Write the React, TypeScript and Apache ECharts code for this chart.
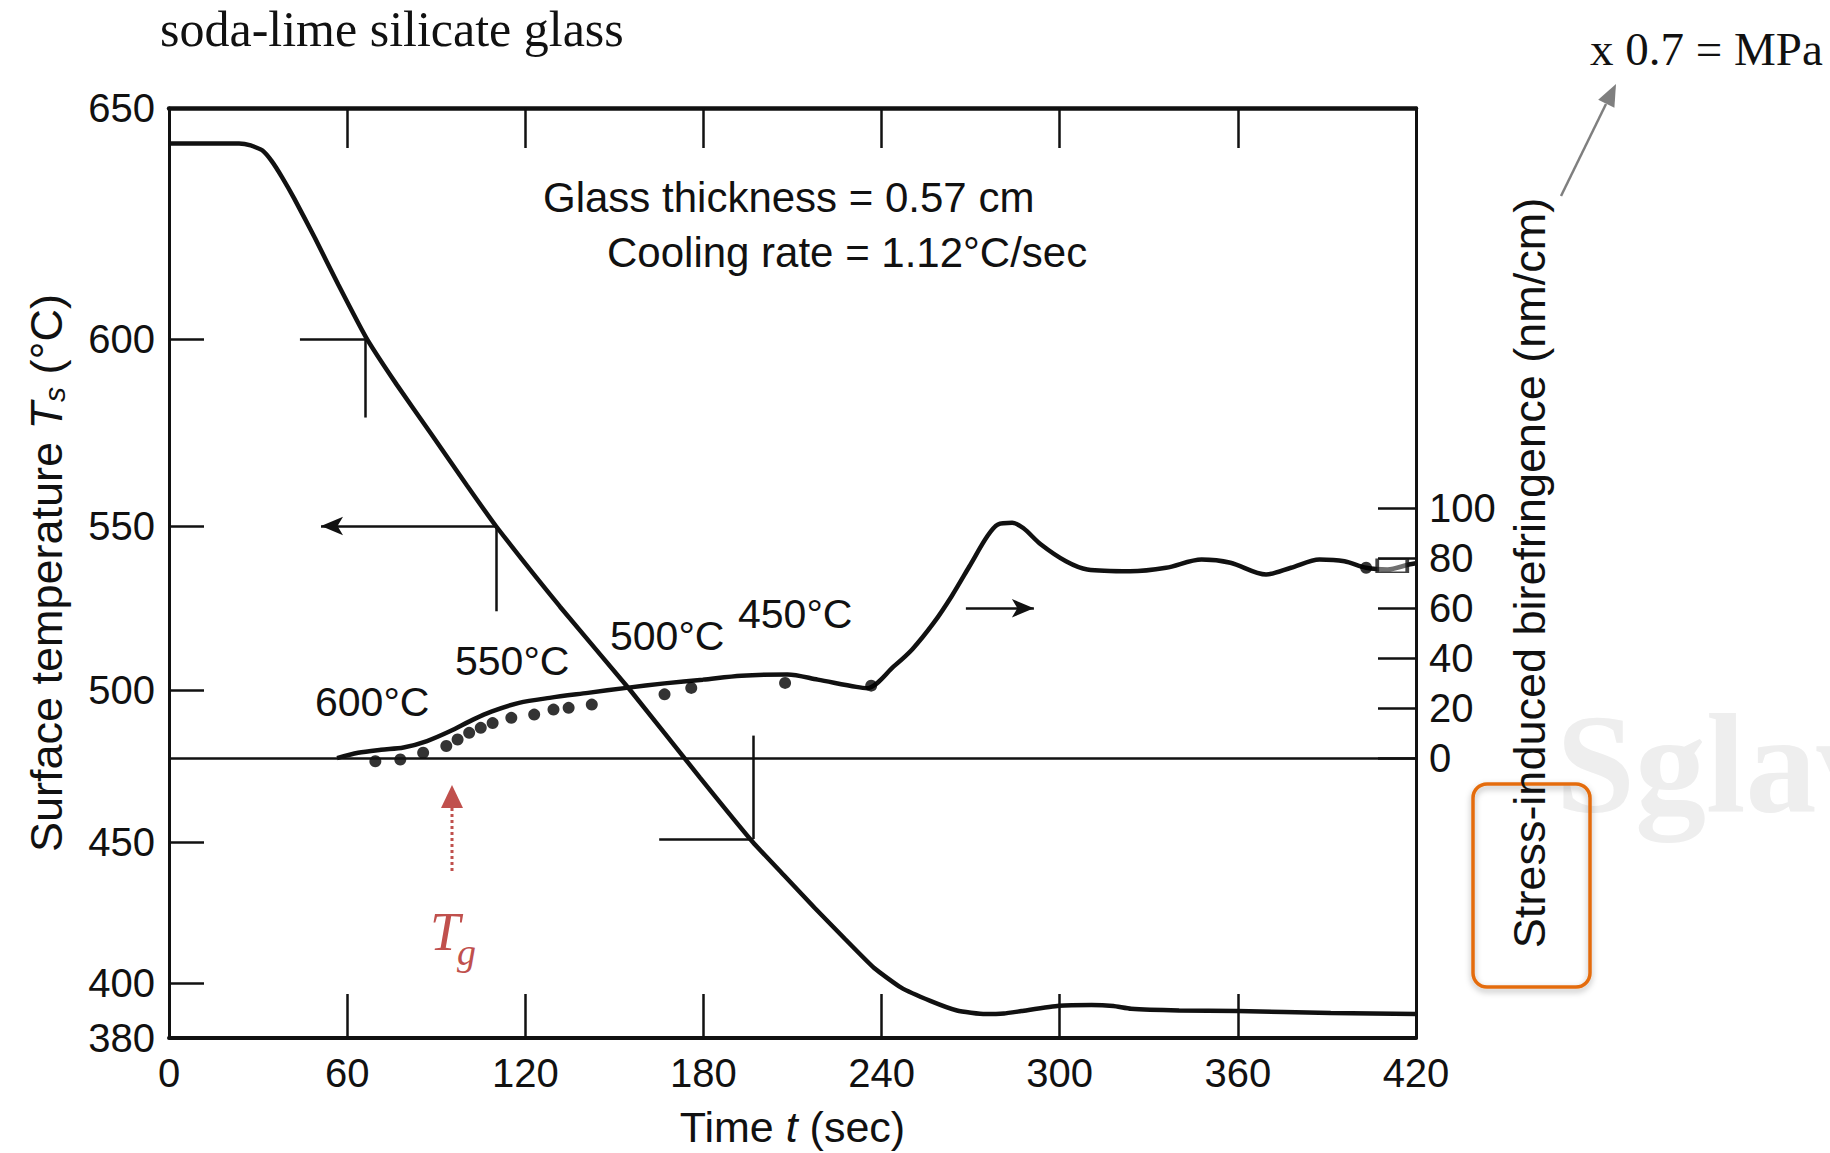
import React, { useEffect, useRef } from "react";
import * as echarts from "echarts";

// ---------- axis definitions ----------
const timeMin = 0;
const timeMax = 420;
const timeStep = 60;

// The temperature axis of the original figure is non-linear: these stops map a
// temperature to its position along the axis (axis units, bottom = 0).
const tempScaleValues = [380, 400, 450, 500, 550, 600, 650];
const tempScalePositions = [0, 55, 196, 348, 512, 699, 930];
const tempTickValues = [400, 450, 500, 550, 600];

const birefTickValues = [0, 20, 40, 60, 80, 100];
const birefMin = -112.1;
const birefMax = 260.3;

// ---------- data ----------
const surfaceTime = [0, 23.6, 27.5, 31.5, 34.6, 38.1, 42.1, 49.2, 57.0, 66.5, 76.7, 88.5, 100.3, 110.1, 131.7, 155.3, 178.9, 196.6, 207.2, 217.5, 227.7, 237.5, 246.6, 256.4, 265.4, 274.9, 281.2, 287.1, 299.7, 310.7, 318.1, 324.0, 340.2, 359.8, 391.3, 420];
const surfaceTemp = [642.3, 642.3, 641.9, 640.8, 638.5, 635.0, 630.5, 621.8, 611.8, 600.2, 587.8, 574.4, 560.9, 550.0, 525.4, 500.0, 471.1, 450.0, 438.1, 426.6, 415.6, 405.3, 398.3, 393.5, 390.0, 388.7, 388.9, 389.8, 391.7, 392.0, 391.6, 390.6, 390.0, 389.8, 389.1, 388.7];

const birefTime = [56.6, 63.7, 71.4, 79.0, 86.9, 94.6, 102.4, 108.8, 117.9, 128.2, 141.1, 154.1, 166.9, 179.8, 192.8, 208.3, 218.5, 231.5, 235.2, 244.2, 250.3, 257.6, 263.6, 269.6, 275.6, 279.2, 284.0, 287.7, 293.7, 302.1, 309.3, 323.7, 335.8, 347.8, 357.5, 369.5, 377.9, 387.5, 395.9, 403.2, 410.4, 417.6, 420];
const birefValue = [0, 2.1, 3.3, 4.2, 6.8, 10.7, 15.4, 18.7, 22.1, 24.1, 26.1, 28.1, 29.9, 31.4, 33.0, 33.5, 31.4, 28.5, 28.0, 36.8, 43.5, 54.2, 64.8, 76.8, 88.8, 93.5, 94.2, 92.1, 85.5, 78.8, 75.5, 74.8, 76.2, 79.5, 78.2, 73.5, 76.2, 79.5, 78.8, 76.2, 75.5, 77.5, 78];

const pointTime = [69.5, 77.9, 85.6, 93.4, 97.2, 101.1, 105.0, 109.0, 115.3, 123.0, 129.5, 134.6, 142.4, 166.9, 175.9, 207.5, 236.5, 403.2];
const pointValue = [-1.3, -0.6, 2.1, 4.8, 7.4, 10.1, 12.1, 14.0, 16.1, 17.4, 19.4, 20.1, 21.4, 25.5, 28.1, 30.1, 29.0, 76.2];

const endMarker = [412, 77];

// guide lines of the temperature curve: [t1, T1, t2, T2]
const tempGuides = [
  [44.1, 600, 66.0, 600],
  [66.0, 600, 66.0, 579],
  [110.2, 550, 110.2, 524],
  [165.1, 451, 196.8, 451],
  [196.8, 451, 196.8, 485],
];
const tempArrow = [110.2, 550, 51.2, 550];
const birefArrow = [268.4, 60, 291.3, 60];

// ---------- helpers ----------
function toPos(T: number): number {
  const v = tempScaleValues;
  const p = tempScalePositions;
  let i = 0;
  while (i < v.length - 2 && T > v[i + 1]) i++;
  return p[i] + ((T - v[i]) * (p[i + 1] - p[i])) / (v[i + 1] - v[i]);
}
function tempLabel(pos: number): string {
  for (let i = 0; i < tempScaleValues.length; i++) {
    if (Math.abs(toPos(tempScaleValues[i]) - pos) < 0.5) return String(tempScaleValues[i]);
  }
  return "";
}

const ink = "#111111";
const sans = '"Liberation Sans", Arial, Helvetica, sans-serif';
const serif = '"Liberation Serif", "Times New Roman", serif';
const red = "#C0504D";

export default function App() {
  const ref = useRef<HTMLDivElement>(null);

  useEffect(() => {
    if (!ref.current) return;
    const chart = echarts.init(ref.current, undefined, { renderer: "svg" });

    const guideLines: any[] = tempGuides.map((g) => [
      { coord: [g[0], toPos(g[1])], symbol: "none" },
      { coord: [g[2], toPos(g[3])], symbol: "none" },
    ]);
    guideLines.push([
      { coord: [tempArrow[0], toPos(tempArrow[1])], symbol: "none" },
      { coord: [tempArrow[2], toPos(tempArrow[3])], symbol: "arrow", symbolSize: [14, 22] },
    ]);

    const option: any = {
      animation: false,
      backgroundColor: "#ffffff",
      grid: { left: 169, right: 414, top: 108, bottom: 115 },
      xAxis: [
        {
          type: "value",
          position: "bottom",
          min: timeMin,
          max: timeMax,
          interval: timeStep,
          name: "Time {it|t} (sec)",
          nameLocation: "middle",
          nameGap: 67,
          nameTextStyle: {
            fontFamily: sans,
            fontSize: 43,
            color: ink,
            rich: { it: { fontFamily: sans, fontSize: 43, fontStyle: "italic", color: ink } },
          },
          axisLine: { show: true, onZero: false, lineStyle: { color: ink, width: 4 } },
          axisTick: { show: true, inside: true, length: 44, lineStyle: { color: ink, width: 2.5 } },
          axisLabel: { fontFamily: sans, fontSize: 40, color: ink, margin: 15 },
          splitLine: { show: false },
        },
        {
          type: "value",
          position: "top",
          min: timeMin,
          max: timeMax,
          interval: timeStep,
          axisLine: { show: true, onZero: false, lineStyle: { color: ink, width: 4.5 } },
          axisTick: { show: true, inside: true, length: 40, lineStyle: { color: ink, width: 2.5 } },
          axisLabel: { show: false },
          splitLine: { show: false },
        },
      ],
      yAxis: [
        {
          type: "value",
          position: "left",
          min: 0,
          max: tempScalePositions[tempScalePositions.length - 1],
          name: "Surface temperature {it|T}{sub|s} (°C)",
          nameLocation: "middle",
          nameGap: 100,
          nameTextStyle: {
            fontFamily: sans,
            fontSize: 45,
            color: ink,
            rich: {
              it: { fontFamily: sans, fontSize: 45, fontStyle: "italic", color: ink },
              sub: { fontFamily: sans, fontSize: 30, fontStyle: "italic", color: ink, lineHeight: 20, verticalAlign: "bottom" },
            },
          },
          axisLine: { show: true, onZero: false, lineStyle: { color: ink, width: 3 } },
          axisTick: {
            show: true,
            inside: true,
            length: 35,
            customValues: tempTickValues.map(toPos),
            lineStyle: { color: ink, width: 2.5 },
          },
          axisLabel: {
            customValues: tempScaleValues.map(toPos),
            formatter: (v: number) => tempLabel(v),
            fontFamily: sans,
            fontSize: 40,
            color: ink,
            margin: 14,
          },
          splitLine: { show: false },
        },
        {
          type: "value",
          position: "right",
          min: birefMin,
          max: birefMax,
          name: "Stress-induced birefringence (nm/cm)",
          nameLocation: "middle",
          nameGap: 87,
          nameTextStyle: { fontFamily: sans, fontSize: 45, color: ink },
          axisLine: { show: true, onZero: false, lineStyle: { color: ink, width: 3 } },
          axisTick: {
            show: true,
            inside: true,
            length: 38,
            customValues: birefTickValues,
            lineStyle: { color: ink, width: 2.5 },
          },
          axisLabel: {
            customValues: birefTickValues,
            fontFamily: sans,
            fontSize: 40,
            color: ink,
            margin: 13,
          },
          splitLine: { show: false },
        },
      ],
      series: [
        {
          name: "Surface temperature",
          type: "line",
          xAxisIndex: 0,
          yAxisIndex: 0,
          showSymbol: false,
          smooth: 0.15,
          lineStyle: { color: ink, width: 4.5 },
          data: surfaceTime.map((t, i) => [t, toPos(surfaceTemp[i])]),
          markLine: {
            silent: true,
            symbol: ["none", "none"],
            label: { show: false },
            lineStyle: { color: ink, width: 2.5, type: "solid" },
            emphasis: { disabled: true },
            data: guideLines,
          },
          z: 3,
        },
        {
          name: "Birefringence",
          type: "line",
          xAxisIndex: 0,
          yAxisIndex: 1,
          showSymbol: false,
          smooth: 0.3,
          lineStyle: { color: ink, width: 4.5 },
          data: birefTime.map((t, i) => [t, birefValue[i]]),
          markLine: {
            silent: true,
            symbol: ["none", "none"],
            label: { show: false },
            lineStyle: { color: ink, width: 2.5, type: "solid" },
            emphasis: { disabled: true },
            data: [
              { yAxis: 0 },
              [
                { coord: [birefArrow[0], birefArrow[1]], symbol: "none" },
                { coord: [birefArrow[2], birefArrow[3]], symbol: "arrow", symbolSize: [14, 22] },
              ],
            ],
          },
          z: 3,
        },
        {
          name: "Measured",
          type: "scatter",
          xAxisIndex: 0,
          yAxisIndex: 1,
          symbol: "circle",
          symbolSize: 12,
          itemStyle: { color: "#000000" },
          data: pointTime.map((t, i) => [t, pointValue[i]]),
          z: 4,
        },
        {
          name: "End",
          type: "scatter",
          xAxisIndex: 0,
          yAxisIndex: 1,
          symbol: "rect",
          symbolSize: [30, 13],
          itemStyle: { color: "rgba(255,255,255,0.5)", borderColor: ink, borderWidth: 2.5 },
          data: [endMarker],
          z: 4,
        },
      ],
      graphic: [
        {
          type: "text",
          z: -10,
          x: 1556,
          y: 764,
          style: { text: "Sglav", fontFamily: serif, fontWeight: "bold", fontSize: 142, fill: "#eeeeee", verticalAlign: "middle" },
        },
        {
          type: "text",
          x: 160,
          y: 29,
          style: { text: "soda-lime silicate glass", fontFamily: serif, fontSize: 50, fill: "#111111", verticalAlign: "middle" },
        },
        {
          type: "text",
          x: 1590,
          y: 49,
          style: { text: "x 0.7 = MPa", fontFamily: serif, fontSize: 47, fill: "#111111", verticalAlign: "middle" },
        },
        {
          type: "line",
          shape: { x1: 1561, y1: 196, x2: 1606, y2: 104 },
          style: { stroke: "#7f7f7f", lineWidth: 2.5 },
        },
        {
          type: "polygon",
          shape: { points: [[1616, 84], [1614.4, 107.7], [1598.2, 99.7]] },
          style: { fill: "#7f7f7f" },
        },
        {
          type: "rect",
          shape: { x: 1473, y: 784, width: 117, height: 203, r: 14 },
          style: { fill: "transparent", stroke: "#E46C0A", lineWidth: 3.5, shadowBlur: 6, shadowOffsetY: 3, shadowColor: "rgba(0,0,0,0.3)" },
        },
        {
          type: "text",
          x: 543,
          y: 197,
          style: { text: "Glass thickness = 0.57 cm", fontFamily: sans, fontSize: 42, fill: ink, verticalAlign: "middle" },
        },
        {
          type: "text",
          x: 607,
          y: 252,
          style: { text: "Cooling rate = 1.12°C/sec", fontFamily: sans, fontSize: 42, fill: ink, verticalAlign: "middle" },
        },
        { type: "text", x: 315, y: 702, style: { text: "600°C", fontFamily: sans, fontSize: 41, fill: ink, verticalAlign: "middle" } },
        { type: "text", x: 455, y: 661, style: { text: "550°C", fontFamily: sans, fontSize: 41, fill: ink, verticalAlign: "middle" } },
        { type: "text", x: 610, y: 636, style: { text: "500°C", fontFamily: sans, fontSize: 41, fill: ink, verticalAlign: "middle" } },
        { type: "text", x: 738, y: 614, style: { text: "450°C", fontFamily: sans, fontSize: 41, fill: ink, verticalAlign: "middle" } },
        {
          type: "polygon",
          shape: { points: [[452, 785], [441, 808], [463, 808]] },
          style: { fill: red },
        },
        {
          type: "line",
          shape: { x1: 452, y1: 808, x2: 452, y2: 872 },
          style: { stroke: red, lineWidth: 3, lineDash: [3, 3] },
        },
        {
          type: "text",
          x: 430,
          y: 932,
          style: { text: "T", fontFamily: serif, fontStyle: "italic", fontSize: 54, fill: red, verticalAlign: "middle" },
        },
        {
          type: "text",
          x: 457,
          y: 952,
          style: { text: "g", fontFamily: serif, fontStyle: "italic", fontSize: 38, fill: red, verticalAlign: "middle" },
        },
      ],
    };

    chart.setOption(option);
    return () => chart.dispose();
  }, []);

  return (
    <div
      ref={ref}
      style={{ position: "absolute", left: 0, top: 0, width: 1830, height: 1153, background: "#fff" }}
    />
  );
}
